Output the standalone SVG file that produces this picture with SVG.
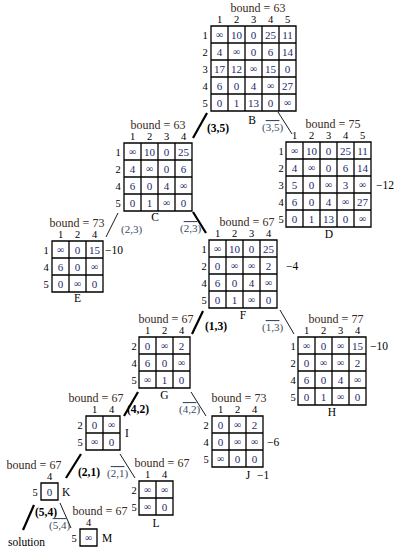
<svg xmlns="http://www.w3.org/2000/svg" width="400" height="560" viewBox="0 0 400 560">
<style>
text{font-family:"Liberation Serif","DejaVu Serif",serif;}
.grid{fill:#fff;stroke:#000;stroke-width:1.3;}
.v{font-size:11px;fill:#1b2a6b;text-anchor:middle;}
.i{font-size:10px;fill:#1b2a6b;text-anchor:middle;}
.h{font-size:10.5px;fill:#000;text-anchor:middle;}
.b{font-size:12px;fill:#3a2a20;text-anchor:middle;}
.n{font-size:11.5px;fill:#000;text-anchor:middle;}
.r{font-size:11.5px;fill:#000;}
.lb{font-size:11.5px;font-weight:bold;fill:#000;}
.lo{font-size:11px;fill:#3b4a66;}
.ov{text-decoration:overline;}
.thick{stroke:#000;stroke-width:2.2;fill:none;}
.thin{stroke:#000;stroke-width:0.9;fill:none;}
</style>

<g id="connectors">
<line class="thick" x1="207" y1="113" x2="193" y2="138"/>
<line class="thin" x1="278" y1="112" x2="292" y2="134"/>
<line class="thin" x1="118" y1="213" x2="106" y2="237"/>
<line class="thick" x1="193" y1="212" x2="206" y2="233"/>
<line class="thick" x1="203" y1="311" x2="192" y2="334"/>
<line class="thin" x1="280" y1="310" x2="294" y2="334"/>
<line class="thick" x1="138" y1="392" x2="124" y2="416"/>
<line class="thin" x1="191" y1="392" x2="206" y2="416"/>
<line class="thick" x1="81" y1="454" x2="66" y2="478"/>
<line class="thin" x1="120" y1="454" x2="135" y2="478"/>
<line class="thick" x1="34" y1="505" x2="23" y2="530"/>
<line class="thin" x1="60" y1="503" x2="71" y2="528"/>
<text class="lb" x="207" y="132">(3,5)</text>
<text class="lo" x="262" y="131">(<tspan class="ov">3,5</tspan>)</text>
<text class="lo" x="121" y="233">(2,3)</text>
<text class="lo" x="180" y="232">(<tspan class="ov">2,3</tspan>)</text>
<text class="lb" x="205" y="330">(1,3)</text>
<text class="lo" x="262" y="331">(<tspan class="ov">1,3</tspan>)</text>
<text class="lb" x="127" y="413">(4,2)</text>
<text class="lo" x="179" y="413">(<tspan class="ov">4,2</tspan>)</text>
<text class="lb" x="78" y="476">(2,1)</text>
<text class="lo" x="107" y="477">(<tspan class="ov">2,1</tspan>)</text>
<text class="lb" x="35" y="516">(5,4)</text>
<text class="lo" x="49" y="529">(<tspan class="ov">5,4</tspan>)</text>
<text class="r" x="8" y="546">solution</text>
</g>

<g id="B">
<text class="b" x="258" y="12">bound = 63</text>
<text class="h" x="219.5" y="23">1</text><text class="h" x="236.5" y="23">2</text><text class="h" x="253.5" y="23">3</text><text class="h" x="270.5" y="23">4</text><text class="h" x="287.5" y="23">5</text>
<path class="grid" d="M211 26h85v85h-85Z M228 26v85 M245 26v85 M262 26v85 M279 26v85 M211 43h85 M211 60h85 M211 77h85 M211 94h85"/>
<text class="h" x="205" y="38.5">1</text><text class="h" x="205" y="55.5">2</text><text class="h" x="205" y="72.5">3</text><text class="h" x="205" y="89.5">4</text><text class="h" x="205" y="106.5">5</text>
<text class="i" x="219.5" y="38">∞</text><text class="v" x="236.5" y="38.5">10</text><text class="v" x="253.5" y="38.5">0</text><text class="v" x="270.5" y="38.5">25</text><text class="v" x="287.5" y="38.5">11</text>
<text class="v" x="219.5" y="55.5">4</text><text class="i" x="236.5" y="55">∞</text><text class="v" x="253.5" y="55.5">0</text><text class="v" x="270.5" y="55.5">6</text><text class="v" x="287.5" y="55.5">14</text>
<text class="v" x="219.5" y="72.5">17</text><text class="v" x="236.5" y="72.5">12</text><text class="i" x="253.5" y="72">∞</text><text class="v" x="270.5" y="72.5">15</text><text class="v" x="287.5" y="72.5">0</text>
<text class="v" x="219.5" y="89.5">6</text><text class="v" x="236.5" y="89.5">0</text><text class="v" x="253.5" y="89.5">4</text><text class="i" x="270.5" y="89">∞</text><text class="v" x="287.5" y="89.5">27</text>
<text class="v" x="219.5" y="106.5">0</text><text class="v" x="236.5" y="106.5">1</text><text class="v" x="253.5" y="106.5">13</text><text class="v" x="270.5" y="106.5">0</text><text class="i" x="287.5" y="106">∞</text>
<text class="n" x="252" y="124">B</text>
</g>

<g id="C">
<text class="b" x="158" y="129">bound = 63</text>
<text class="h" x="132.5" y="140">1</text><text class="h" x="149.5" y="140">2</text><text class="h" x="166.5" y="140">3</text><text class="h" x="183.5" y="140">4</text>
<path class="grid" d="M124 143h68v68h-68Z M141 143v68 M158 143v68 M175 143v68 M124 160h68 M124 177h68 M124 194h68"/>
<text class="h" x="118" y="155.5">1</text><text class="h" x="118" y="172.5">2</text><text class="h" x="118" y="189.5">4</text><text class="h" x="118" y="206.5">5</text>
<text class="i" x="132.5" y="155">∞</text><text class="v" x="149.5" y="155.5">10</text><text class="v" x="166.5" y="155.5">0</text><text class="v" x="183.5" y="155.5">25</text>
<text class="v" x="132.5" y="172.5">4</text><text class="i" x="149.5" y="172">∞</text><text class="v" x="166.5" y="172.5">0</text><text class="v" x="183.5" y="172.5">6</text>
<text class="v" x="132.5" y="189.5">6</text><text class="v" x="149.5" y="189.5">0</text><text class="v" x="166.5" y="189.5">4</text><text class="i" x="183.5" y="189">∞</text>
<text class="v" x="132.5" y="206.5">0</text><text class="v" x="149.5" y="206.5">1</text><text class="i" x="166.5" y="206">∞</text><text class="v" x="183.5" y="206.5">0</text>
<text class="n" x="155" y="221">C</text>
</g>

<g id="D">
<text class="b" x="333" y="128">bound = 75</text>
<text class="h" x="294.5" y="139">1</text><text class="h" x="311.5" y="139">2</text><text class="h" x="328.5" y="139">3</text><text class="h" x="345.5" y="139">4</text><text class="h" x="362.5" y="139">5</text>
<path class="grid" d="M286 142h85v85h-85Z M303 142v85 M320 142v85 M337 142v85 M354 142v85 M286 159h85 M286 176h85 M286 193h85 M286 210h85"/>
<text class="h" x="281" y="154.5">1</text><text class="h" x="281" y="171.5">2</text><text class="h" x="281" y="188.5">3</text><text class="h" x="281" y="205.5">4</text><text class="h" x="281" y="222.5">5</text>
<text class="i" x="294.5" y="154">∞</text><text class="v" x="311.5" y="154.5">10</text><text class="v" x="328.5" y="154.5">0</text><text class="v" x="345.5" y="154.5">25</text><text class="v" x="362.5" y="154.5">11</text>
<text class="v" x="294.5" y="171.5">4</text><text class="i" x="311.5" y="171">∞</text><text class="v" x="328.5" y="171.5">0</text><text class="v" x="345.5" y="171.5">6</text><text class="v" x="362.5" y="171.5">14</text>
<text class="v" x="294.5" y="188.5">5</text><text class="v" x="311.5" y="188.5">0</text><text class="i" x="328.5" y="188">∞</text><text class="v" x="345.5" y="188.5">3</text><text class="i" x="362.5" y="188">∞</text>
<text class="v" x="294.5" y="205.5">6</text><text class="v" x="311.5" y="205.5">0</text><text class="v" x="328.5" y="205.5">4</text><text class="i" x="345.5" y="205">∞</text><text class="v" x="362.5" y="205.5">27</text>
<text class="v" x="294.5" y="222.5">0</text><text class="v" x="311.5" y="222.5">1</text><text class="v" x="328.5" y="222.5">13</text><text class="v" x="345.5" y="222.5">0</text><text class="i" x="362.5" y="222">∞</text>
<text class="r" x="376" y="188.5">−12</text>
<text class="n" x="329" y="238">D</text>
</g>

<g id="E">
<text class="b" x="77" y="227">bound = 73</text>
<text class="h" x="60.5" y="238">1</text><text class="h" x="77.5" y="238">2</text><text class="h" x="94.5" y="238">4</text>
<path class="grid" d="M52 241h51v51h-51Z M69 241v51 M86 241v51 M52 258h51 M52 275h51"/>
<text class="h" x="46" y="253.5">1</text><text class="h" x="46" y="270.5">4</text><text class="h" x="46" y="287.5">5</text>
<text class="i" x="60.5" y="253">∞</text><text class="v" x="77.5" y="253.5">0</text><text class="v" x="94.5" y="253.5">15</text>
<text class="v" x="60.5" y="270.5">6</text><text class="v" x="77.5" y="270.5">0</text><text class="i" x="94.5" y="270">∞</text>
<text class="v" x="60.5" y="287.5">0</text><text class="i" x="77.5" y="287">∞</text><text class="v" x="94.5" y="287.5">0</text>
<text class="r" x="105" y="253.5">−10</text>
<text class="n" x="77.5" y="302">E</text>
</g>

<g id="F">
<text class="b" x="247" y="226">bound = 67</text>
<text class="h" x="217.5" y="237">1</text><text class="h" x="234.5" y="237">2</text><text class="h" x="251.5" y="237">3</text><text class="h" x="268.5" y="237">4</text>
<path class="grid" d="M209 240h68v68h-68Z M226 240v68 M243 240v68 M260 240v68 M209 257h68 M209 274h68 M209 291h68"/>
<text class="h" x="204" y="252.5">1</text><text class="h" x="204" y="269.5">2</text><text class="h" x="204" y="286.5">4</text><text class="h" x="204" y="303.5">5</text>
<text class="i" x="217.5" y="252">∞</text><text class="v" x="234.5" y="252.5">10</text><text class="v" x="251.5" y="252.5">0</text><text class="v" x="268.5" y="252.5">25</text>
<text class="v" x="217.5" y="269.5">0</text><text class="i" x="234.5" y="269">∞</text><text class="i" x="251.5" y="269">∞</text><text class="v" x="268.5" y="269.5">2</text>
<text class="v" x="217.5" y="286.5">6</text><text class="v" x="234.5" y="286.5">0</text><text class="v" x="251.5" y="286.5">4</text><text class="i" x="268.5" y="286">∞</text>
<text class="v" x="217.5" y="303.5">0</text><text class="v" x="234.5" y="303.5">1</text><text class="i" x="251.5" y="303">∞</text><text class="v" x="268.5" y="303.5">0</text>
<text class="r" x="286" y="269.5">−4</text>
<text class="n" x="243" y="319">F</text>
</g>

<g id="G">
<text class="b" x="166" y="323">bound = 67</text>
<text class="h" x="147.5" y="334">1</text><text class="h" x="164.5" y="334">2</text><text class="h" x="181.5" y="334">4</text>
<path class="grid" d="M139 337h51v51h-51Z M156 337v51 M173 337v51 M139 354h51 M139 371h51"/>
<text class="h" x="134" y="349.5">2</text><text class="h" x="134" y="366.5">4</text><text class="h" x="134" y="383.5">5</text>
<text class="v" x="147.5" y="349.5">0</text><text class="i" x="164.5" y="349">∞</text><text class="v" x="181.5" y="349.5">2</text>
<text class="v" x="147.5" y="366.5">6</text><text class="v" x="164.5" y="366.5">0</text><text class="i" x="181.5" y="366">∞</text>
<text class="i" x="147.5" y="383">∞</text><text class="v" x="164.5" y="383.5">1</text><text class="v" x="181.5" y="383.5">0</text>
<text class="n" x="164.5" y="399">G</text>
</g>

<g id="H">
<text class="b" x="336" y="323">bound = 77</text>
<text class="h" x="306.5" y="334">1</text><text class="h" x="323.5" y="334">2</text><text class="h" x="340.5" y="334">3</text><text class="h" x="357.5" y="334">4</text>
<path class="grid" d="M298 337h68v68h-68Z M315 337v68 M332 337v68 M349 337v68 M298 354h68 M298 371h68 M298 388h68"/>
<text class="h" x="293" y="349.5">1</text><text class="h" x="293" y="366.5">2</text><text class="h" x="293" y="383.5">4</text><text class="h" x="293" y="400.5">5</text>
<text class="i" x="306.5" y="349">∞</text><text class="v" x="323.5" y="349.5">0</text><text class="i" x="340.5" y="349">∞</text><text class="v" x="357.5" y="349.5">15</text>
<text class="v" x="306.5" y="366.5">0</text><text class="i" x="323.5" y="366">∞</text><text class="i" x="340.5" y="366">∞</text><text class="v" x="357.5" y="366.5">2</text>
<text class="v" x="306.5" y="383.5">6</text><text class="v" x="323.5" y="383.5">0</text><text class="v" x="340.5" y="383.5">4</text><text class="i" x="357.5" y="383">∞</text>
<text class="v" x="306.5" y="400.5">0</text><text class="v" x="323.5" y="400.5">1</text><text class="i" x="340.5" y="400">∞</text><text class="v" x="357.5" y="400.5">0</text>
<text class="r" x="370" y="349.5">−10</text>
<text class="n" x="332" y="416">H</text>
</g>

<g id="I">
<text class="b" x="96" y="402">bound = 67</text>
<text class="h" x="94.5" y="413">1</text><text class="h" x="111.5" y="413">4</text>
<path class="grid" d="M86 416h34v34h-34Z M103 416v34 M86 433h34"/>
<text class="h" x="80" y="428.5">2</text><text class="h" x="80" y="445.5">5</text>
<text class="v" x="94.5" y="428.5">0</text><text class="i" x="111.5" y="428">∞</text>
<text class="i" x="94.5" y="445">∞</text><text class="v" x="111.5" y="445.5">0</text>
<text class="r" x="125" y="437">I</text>
</g>

<g id="J">
<text class="b" x="239" y="402">bound = 73</text>
<text class="h" x="220.5" y="413">1</text><text class="h" x="237.5" y="413">2</text><text class="h" x="254.5" y="413">4</text>
<path class="grid" d="M212 416h51v51h-51Z M229 416v51 M246 416v51 M212 433h51 M212 450h51"/>
<text class="h" x="206" y="428.5">2</text><text class="h" x="206" y="445.5">4</text><text class="h" x="206" y="462.5">5</text>
<text class="v" x="220.5" y="428.5">0</text><text class="i" x="237.5" y="428">∞</text><text class="v" x="254.5" y="428.5">2</text>
<text class="v" x="220.5" y="445.5">0</text><text class="i" x="237.5" y="445">∞</text><text class="i" x="254.5" y="445">∞</text>
<text class="i" x="220.5" y="462">∞</text><text class="v" x="237.5" y="462.5">0</text><text class="v" x="254.5" y="462.5">0</text>
<text class="r" x="267" y="445.5">−6</text>
<text class="n" x="248" y="479">J</text><text class="r" x="257" y="479">−1</text>
</g>

<g id="K">
<text class="b" x="34" y="469">bound = 67</text>
<text class="h" x="49.5" y="480">4</text>
<path class="grid" d="M41 483h17v17h-17Z"/>
<text class="h" x="35" y="495.5">5</text>
<text class="v" x="49.5" y="495.5">0</text>
<text class="r" x="62" y="495.5">K</text>
</g>

<g id="L">
<text class="b" x="162" y="467">bound = 67</text>
<text class="h" x="147.5" y="478">1</text><text class="h" x="164.5" y="478">4</text>
<path class="grid" d="M139 481h34v34h-34Z M156 481v34 M139 498h34"/>
<text class="h" x="134" y="493.5">2</text><text class="h" x="134" y="510.5">5</text>
<text class="i" x="147.5" y="493">∞</text><text class="i" x="164.5" y="493">∞</text>
<text class="i" x="147.5" y="510">∞</text><text class="v" x="164.5" y="510.5">0</text>
<text class="n" x="156" y="527">L</text>
</g>

<g id="M">
<text class="b" x="100" y="515">bound = 67</text>
<text class="h" x="88.5" y="526">4</text>
<path class="grid" d="M80 529h17v17h-17Z"/>
<text class="h" x="74" y="541.5">5</text>
<text class="i" x="88.5" y="541">∞</text>
<text class="r" x="102" y="541.5">M</text>
</g>
</svg>
